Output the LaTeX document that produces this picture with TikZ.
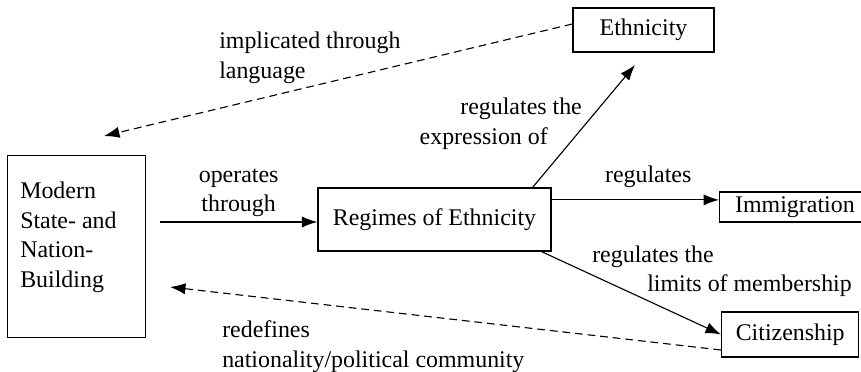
\documentclass[tikz,border=0pt]{standalone}
\usepackage{fontspec}
\setmainfont{Liberation Serif}
\usetikzlibrary{positioning}
\usetikzlibrary{arrows.meta}

\begin{document}
\begin{tikzpicture}
	[x=0.025cm, y=-0.025cm,
	font=\fontsize{17}{21}\selectfont,
	>={Latex[length=11pt,width=8pt]}]

\def\BoxLine{1pt}
\def\LinkLine{0.8pt}

% Styles
\tikzstyle{box} =
	[draw, line width=\BoxLine]

\tikzstyle{link} =
	[->, line width=\LinkLine]

\tikzstyle{feedback} =
	[link, dash pattern=on 5.5pt off 3.5pt]

\tikzstyle{edge text} =
	[align=left, inner sep=0pt]

\useasboundingbox (0,0) rectangle (861,372);
\clip (0,0) rectangle (861,372);

% Modules

\node (ModernBox) at (7,155)
	[box, anchor=north west, minimum width=3.45cm, minimum height=4.55cm] {};
\node (Modern) at (20,182)
	[edge text, anchor=north west]
	{Modern\\State- and\\Nation-\\Building};

\node (Regimes) at (434.5,219.5)
	[box, minimum width=5.825cm, minimum height=1.575cm] {Regimes of Ethnicity};

\node (Ethnicity) at (643.5,30)
	[box, minimum width=3.525cm, minimum height=1.1cm] {Ethnicity};

\node (Immigration) at (719,207)
	[box, anchor=west, inner xsep=11pt, minimum height=0.75cm] {Immigration};

\node (Citizenship) at (721,334.5)
	[box, anchor=west, inner xsep=10pt, minimum height=1.125cm] {Citizenship};

% Free ends

\coordinate (OperatesStart) at (160,222);
\coordinate (ExpressionEnd) at (635,65);
\coordinate (LanguageEnd) at (104,136);
\coordinate (NationEnd) at (170,287);
\coordinate (RegimesOut) at ([yshift=0.49cm]Regimes.east);

% Edges

\path[link, align=center]
	(OperatesStart) edge node[above] {operates\\through} (OperatesStart -| Regimes.west)
	(RegimesOut) edge node[above=5pt, pos=0.577] {regulates} (RegimesOut -| Immigration.west);

\path[link]
	([xshift=-0.475cm]Regimes.north east) edge
		node[left, align=right, inner sep=2.5pt, pos=0.52]
		{regulates the\\expression of\hspace*{0.85cm}}
		(ExpressionEnd)
	([xshift=-0.25cm]Regimes.south east) edge (Citizenship.west);

\node (LimitsText) at (592,245.6)
	[edge text, anchor=north west]
	{regulates the\\\hspace*{1.375cm}limits of membership};

\path[feedback]
	([yshift=0.15cm]Ethnicity.west) edge (LanguageEnd)
	([yshift=-0.3875cm]Citizenship.west) edge (NationEnd);

\node (LanguageText) at (219,32)
	[edge text, anchor=north west]
	{implicated through\\language};

\node (NationText) at (222,320.6)
	[edge text, anchor=north west]
	{redefines\\nationality/political community};

\end{tikzpicture}
\end{document}
